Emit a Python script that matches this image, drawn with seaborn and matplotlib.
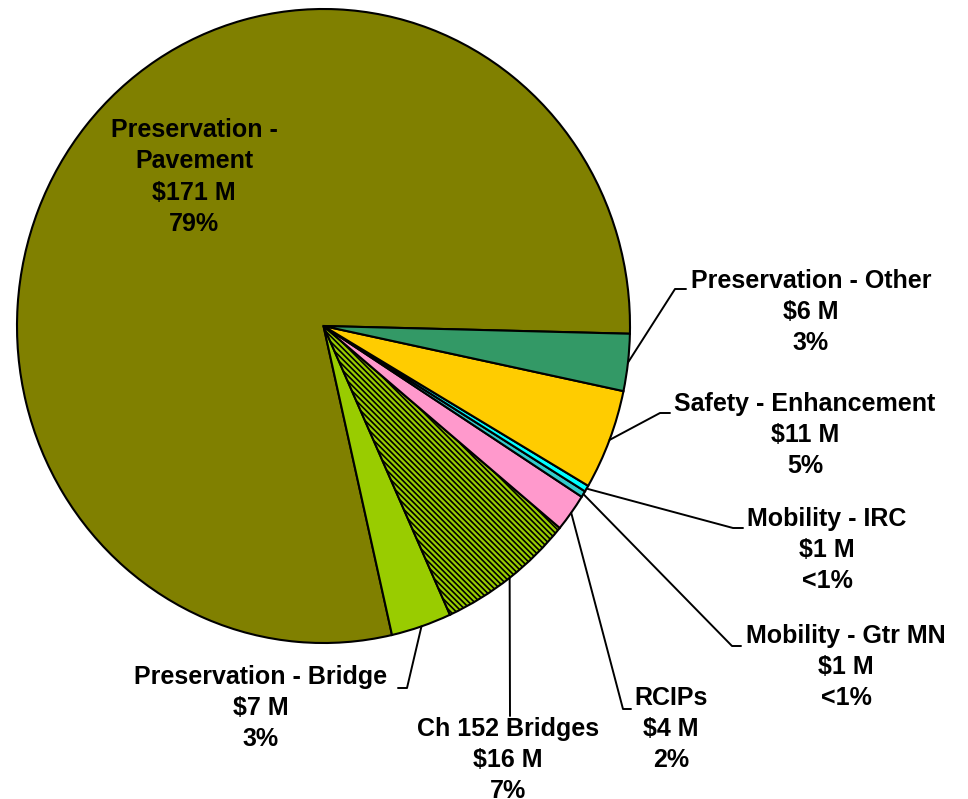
import matplotlib
matplotlib.use("Agg")
import matplotlib.pyplot as plt
import seaborn as sns
import numpy as np
from matplotlib.lines import Line2D

# ---------------- data ----------------
categories = ["Preservation - Pavement", "Preservation - Bridge", "Ch 152 Bridges",
              "RCIPs", "Mobility - Gtr MN", "Mobility - IRC",
              "Safety - Enhancement", "Preservation - Other"]
values = [171.3, 6.9, 15.7, 4.2, 0.7, 0.7, 11.1, 6.3]          # $ M
amount_labels = ["$171 M", "$7 M", "$16 M", "$4 M", "$1 M", "$1 M", "$11 M", "$6 M"]
pct_labels = ["79%", "3%", "7%", "2%", "<1%", "<1%", "5%", "3%"]
name_labels = ["Preservation -\nPavement", "Preservation - Bridge", "Ch 152 Bridges",
               "RCIPs", "Mobility - Gtr MN", "Mobility - IRC",
               "Safety - Enhancement", "Preservation - Other"]

# ---------------- style ----------------
sns.set_theme(style="white")
plt.rcParams["font.family"] = ["Liberation Sans", "DejaVu Sans"]
plt.rcParams["hatch.linewidth"] = 1.2
plt.rcParams["hatch.color"] = "black"

colors = ["#808000", "#99CC00", "#99CC00", "#FF99CC", "#33CCCC", "#00FFFF", "#FFCC00", "#339966"]
hatches = [None, None, "\\" * 6, None, None, None, None, None]

W, H = 968, 799
fig = plt.figure(figsize=(W / 100, H / 100), dpi=100)
fig.patch.set_facecolor("white")

# pie box in pixels (left, top, right, bottom), top-origin
pl, pt, pr, pb = 17, 9, 630, 643
ax = fig.add_axes([pl / W, 1 - pb / H, (pr - pl) / W, (pb - pt) / H])

wedges, _ = ax.pie(values, colors=colors, startangle=-1.4, counterclock=True,
                   wedgeprops=dict(edgecolor="black", linewidth=1.5))
for w, h in zip(wedges, hatches):
    if h:
        w.set_hatch(h)
ax.set_aspect("auto")
ax.set_xlim(-1, 1)
ax.set_ylim(-1, 1)
ax.axis("off")


def px(x, y):
    return x / W, 1 - y / H


# label centres (pixels, top origin) and leader elbow/end points
text_pos = {
    0: (194, 177),
    1: (261, 708),
    2: (508, 760),
    3: (671, 729),
    4: (846, 667),
    5: (827, 550),
    6: (805, 435),
    7: (811, 312),
}
leaders = {
    1: [(407, 688), (398, 688)],
    2: [(510, 716)],
    3: [(623, 709), (631, 709)],
    4: [(732, 646), (741, 646)],
    5: [(733, 528), (743, 528)],
    6: [(660, 413), (670, 413)],
    7: [(675, 289), (686, 289)],
}

inv = fig.transFigure.inverted()
for i, w in enumerate(wedges):
    label = name_labels[i] + "\n" + amount_labels[i].replace("$", r"\$") + "\n" + pct_labels[i]
    tx, ty = px(*text_pos[i])
    fig.text(tx, ty, label, ha="center", va="center", multialignment="center",
             fontsize=18, fontweight="bold", color="black", linespacing=1.37)
    if i in leaders:
        theta = np.deg2rad((w.theta1 + w.theta2) / 2)
        sx, sy = inv.transform(ax.transData.transform((np.cos(theta), np.sin(theta))))
        xs = [sx] + [px(*p)[0] for p in leaders[i]]
        ys = [sy] + [px(*p)[1] for p in leaders[i]]
        fig.add_artist(Line2D(xs, ys, transform=fig.transFigure, color="black", linewidth=1.4))

fig.savefig("out.png", dpi=100, facecolor="white")
